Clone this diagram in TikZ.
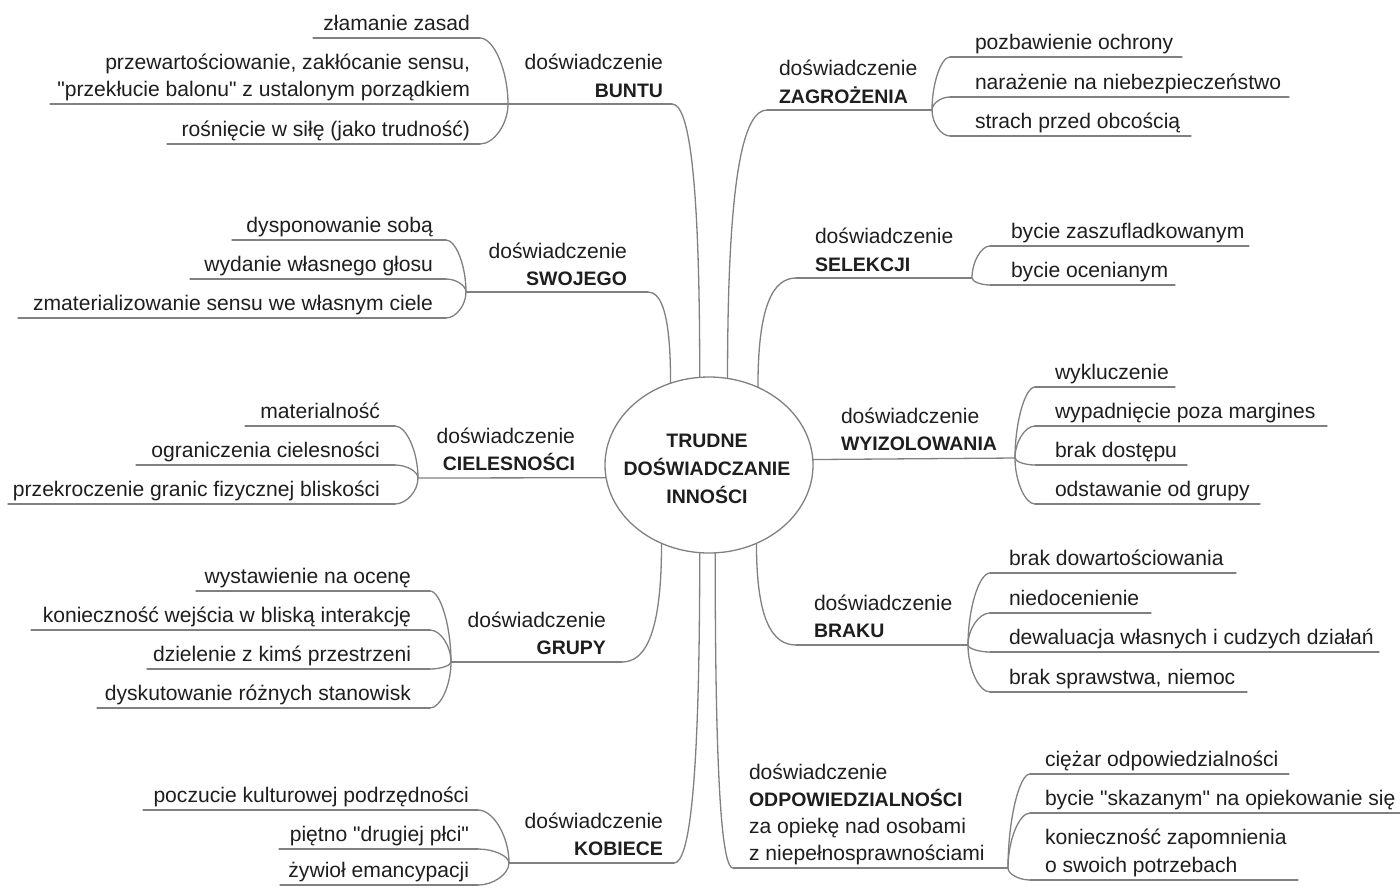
\documentclass[tikz,border=0pt]{standalone}
\usepackage{fontspec}
\setmainfont{Liberation Sans}
\newfontfamily\plainsans{Liberation Sans}
\usetikzlibrary{shapes.geometric,calc}
\definecolor{linec}{HTML}{808080}
\definecolor{txt}{HTML}{1E1E1E}
\newcommand\myreg{\plainsans\fontsize{21.1}{26}\selectfont}
\newcommand\mybold{\plainsans\fontsize{19.5}{24}\selectfont\bfseries}
\tikzset{
 lab/.style={font=\myreg, text=txt, inner sep=0pt, outer sep=0pt},
 labL/.style={lab, anchor=base east},
 labR/.style={lab, anchor=base west},
 ttlL/.style={labL, font=\mybold},
 ttlR/.style={labR, font=\mybold},
 ttlC/.style={lab, anchor=base, font=\mybold},
 link/.style={draw=linec, line width=1.3pt, line cap=round},
 hub/.style={ellipse, draw=linec, line width=1.3pt, minimum width=208pt, minimum height=176pt, inner sep=0pt},
}
% #1 name, #2 style, #3 text, #4 text x, #5 underline y, #6 far end x, #7 near end x, #8 junction
\newcommand\kid[8]{%
 \node[#2] (#1) at (#4,#5-8) {#3};
 \coordinate (#1s) at (#6,#5);
 \coordinate (#1e) at (#7,#5);
 \draw[link] (#1s) -- (#1e);
 \draw[link] (#8) .. controls ($(#8)!0.5!(#8|-#1e)$) and ($(#8|-#1e)!0.5!(#1e)$) .. (#1e);
}
\newcommand\mainlink[2]{%
 \draw[link] (#1) .. controls ($(#1)!0.75!(#1|-#2)$) and ($(#2)!0.6!(#1|-#2)$) .. (#2);
}
\begin{document}
\begin{tikzpicture}[x=1pt,y=-1pt]
\useasboundingbox (0,0) rectangle (1400,887);
\node[hub] (c) at (709,465) {};
\node[ttlC] (ct1) at (707,447) {TRUDNE};
\node[ttlC] (ct2) at (707,475) {DOŚWIADCZANIE};
\node[ttlC] (ct3) at (707,503) {INNOŚCI};

% ---------- BUNTU
\node[labL] (bu1) at (663,69) {doświadczenie};
\node[ttlL] (bu2) at (663,97) {BUNTU};
\coordinate (buA) at (c.96.5);
\coordinate (buE) at (672,104);
\coordinate (buJ) at (508,104);
\mainlink{buA}{buE}
\draw[link] (buE) -- (buJ);
\kid{bua}{labL}{złamanie zasad}{470}{38}{313}{480}{buJ}
\node[labL] (bub1) at (470,69) {przewartościowanie, zakłócanie sensu,};
\kid{bub}{labL}{"przekłucie balonu" z ustalonym porządkiem}{470}{104}{50}{480}{buJ}
\kid{buc}{labL}{rośnięcie w siłę (jako trudność)}{470}{144}{167}{480}{buJ}

% ---------- SWOJEGO
\node[labL] (sw1) at (627,258) {doświadczenie};
\node[ttlL] (sw2) at (627,285) {SWOJEGO};
\coordinate (swA) at (c.115.5);
\coordinate (swE) at (648,292);
\coordinate (swJ) at (466,292);
\mainlink{swA}{swE}
\draw[link] (swE) -- (swJ);
\kid{swa}{labL}{dysponowanie sobą}{433}{240}{232}{446}{swJ}
\kid{swb}{labL}{wydanie własnego głosu}{433}{279}{190}{446}{swJ}
\kid{swc}{labL}{zmaterializowanie sensu we własnym ciele}{433}{318}{18}{446}{swJ}

% ---------- CIELESNOSCI
\node[labL] (ci1) at (575,443) {doświadczenie};
\node[ttlL] (ci2) at (575,470) {CIELESNOŚCI};
\coordinate (ciA) at (c.187.2);
\coordinate (ciJ) at (418,478);
\draw[link] (ciA) -- (ciJ);
\kid{cia}{labL}{materialność}{380}{426}{245}{395}{ciJ}
\kid{cib}{labL}{ograniczenia cielesności}{380}{465}{136}{395}{ciJ}
\kid{cic}{labL}{przekroczenie granic fizycznej bliskości}{380}{504}{8}{395}{ciJ}

% ---------- GRUPY
\node[labL] (gr1) at (606,627) {doświadczenie};
\node[ttlL] (gr2) at (606,654) {GRUPY};
\coordinate (grA) at (c.239.8);
\coordinate (grE) at (622,662);
\coordinate (grJ) at (451,662);
\mainlink{grA}{grE}
\draw[link] (grE) -- (grJ);
\kid{gra}{labL}{wystawienie na ocenę}{411}{591}{196}{430}{grJ}
\kid{grb}{labL}{konieczność wejścia w bliską interakcję}{411}{630}{31}{430}{grJ}
\kid{grc}{labL}{dzielenie z kimś przestrzeni}{411}{669}{147}{430}{grJ}
\kid{grd}{labL}{dyskutowanie różnych stanowisk}{411}{708}{97}{430}{grJ}

% ---------- KOBIECE
\node[labL] (ko1) at (663,828) {doświadczenie};
\node[ttlL] (ko2) at (663,855) {KOBIECE};
\coordinate (koA) at (c.264.1);
\coordinate (koE) at (674,863);
\coordinate (koJ) at (509,863);
\mainlink{koA}{koE}
\draw[link] (koE) -- (koJ);
\kid{koa}{labL}{poczucie kulturowej podrzędności}{469}{810}{143}{478}{koJ}
\kid{kob}{labL}{piętno "drugiej płci"}{469}{849}{279}{478}{koJ}
\kid{koc}{labL}{żywioł emancypacji}{469}{885}{280}{478}{koJ}

% ---------- ZAGROZENIA
\node[labR] (za1) at (779,75) {doświadczenie};
\node[ttlR] (za2) at (779,103) {ZAGROŻENIA};
\coordinate (zaA) at (c.78.3);
\coordinate (zaE) at (767,110);
\coordinate (zaJ) at (932,110);
\mainlink{zaA}{zaE}
\draw[link] (zaE) -- (zaJ);
\kid{zaa}{labR}{pozbawienie ochrony}{975}{57}{1182}{950}{zaJ}
\kid{zab}{labR}{narażenie na niebezpieczeństwo}{975}{97}{1289}{950}{zaJ}
\kid{zac}{labR}{strach przed obcością}{975}{136}{1191}{950}{zaJ}

% ---------- SELEKCJI
\node[labR] (se1) at (815,243) {doświadczenie};
\node[ttlR] (se2) at (815,271) {SELEKCJI};
\coordinate (seA) at (c.58.4);
\coordinate (seE) at (796,278);
\coordinate (seJ) at (972,278);
\mainlink{seA}{seE}
\draw[link] (seE) -- (seJ);
\kid{sea}{labR}{bycie zaszufladkowanym}{1011}{246}{1249}{990}{seJ}
\kid{seb}{labR}{bycie ocenianym}{1011}{285}{1175}{990}{seJ}

% ---------- WYIZOLOWANIA
\node[labR] (wy1) at (841,423) {doświadczenie};
\node[ttlR] (wy2) at (841,450) {WYIZOLOWANIA};
\coordinate (wyA) at (c.3.9);
\coordinate (wyJ) at (1015,458);
\draw[link] (wyA) -- (wyJ);
\kid{wya}{labR}{wykluczenie}{1055}{387}{1175}{1035}{wyJ}
\kid{wyb}{labR}{wypadnięcie poza margines}{1055}{426}{1327}{1035}{wyJ}
\kid{wyc}{labR}{brak dostępu}{1055}{465}{1187}{1035}{wyJ}
\kid{wyd}{labR}{odstawanie od grupy}{1055}{504}{1260}{1035}{wyJ}

% ---------- BRAKU
\node[labR] (br1) at (814,610) {doświadczenie};
\node[ttlR] (br2) at (814,637) {BRAKU};
\coordinate (brA) at (c.301.6);
\coordinate (brE) at (796,645);
\coordinate (brJ) at (968,645);
\mainlink{brA}{brE}
\draw[link] (brE) -- (brJ);
\kid{bra}{labR}{brak dowartościowania}{1009}{573}{1236}{990}{brJ}
\kid{brb}{labR}{niedocenienie}{1009}{613}{1151}{990}{brJ}
\kid{brc}{labR}{dewaluacja własnych i cudzych działań}{1009}{652}{1379}{990}{brJ}
\kid{brd}{labR}{brak sprawstwa, niemoc}{1009}{692}{1247}{990}{brJ}

% ---------- ODPOWIEDZIALNOSCI
\node[labR] (od1) at (749,779) {doświadczenie};
\node[ttlR] (od2) at (749,806) {ODPOWIEDZIALNOŚCI};
\node[labR] (od3) at (749,833) {za opiekę nad osobami};
\node[labR] (od4) at (749,860) {z niepełnosprawnościami};
\coordinate (odA) at (c.274.6);
\coordinate (odE) at (733,868);
\coordinate (odJ) at (1008,868);
\mainlink{odA}{odE}
\draw[link] (odE) -- (odJ);
\kid{oda}{labR}{ciężar odpowiedzialności}{1045}{774}{1289}{1030}{odJ}
\kid{odb}{labR}{bycie "skazanym" na opiekowanie się}{1045}{813}{1400}{1030}{odJ}
\node[labR] (odc1) at (1045,844) {konieczność zapomnienia};
\kid{odc}{labR}{o swoich potrzebach}{1045}{880}{1298}{1030}{odJ}
\end{tikzpicture}
\end{document}
